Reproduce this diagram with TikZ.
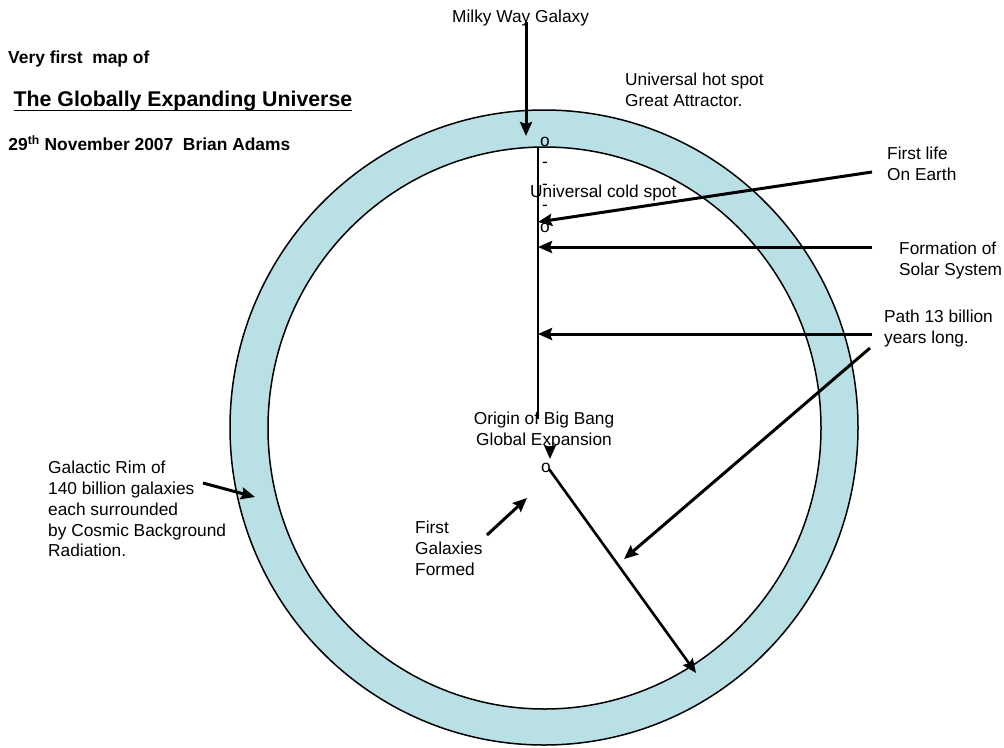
\documentclass[tikz,border=0pt]{standalone}
\usepackage{fontspec}
\setmainfont{Liberation Sans}
\usetikzlibrary{arrows.meta}
\definecolor{ringfill}{RGB}{185,224,229}
\begin{document}
\begin{tikzpicture}[x=1pt,y=-1pt,
  lbl/.style={inner sep=0pt, font=\fontsize{17.3}{20.7}\selectfont, align=left},
  clbl/.style={inner sep=0pt, font=\fontsize{17.3}{20.7}\selectfont, align=center},
  boldlbl/.style={inner sep=0pt, font=\fontsize{17.4}{20.7}\selectfont\bfseries},
  titlelbl/.style={inner sep=0pt, font=\fontsize{21.3}{25}\selectfont\bfseries},
  arr/.style={line width=3pt, -{Stealth[length=14pt,width=12pt,inset=2pt]}},
  rim/.style={line width=1.5pt},
]
\useasboundingbox (0,0) rectangle (1004,747);
\fill[white] (0,0) rectangle (1004,747);
% ring
\fill[ringfill,even odd rule] (544,427.5) ellipse [x radius=314pt, y radius=317.5pt]
  (544.5,428) ellipse [x radius=276.5pt, y radius=281pt];
\draw[rim] (544,427.5) ellipse [x radius=314pt, y radius=317.5pt];
\draw[rim] (544.5,428) ellipse [x radius=276.5pt, y radius=281pt];

% header texts (base anchor = baseline of the last line)
\node[boldlbl, anchor=base west] (vf) at (8,63) {Very first\ \ map of};
\node[titlelbl, anchor=base west] (title) at (13.5,106.7) {The Globally Expanding Universe};
\draw[line width=1.7pt] ([yshift=-3.8pt]title.base west) -- ([yshift=-3.8pt]title.base east);
\node[boldlbl, anchor=base west] (date) at (8.3,150.7) {29\textsuperscript{th} November 2007\ \ Brian Adams};

% labels
\node[lbl, anchor=base west] (milky) at (452,22) {Milky Way Galaxy};
\node[lbl, anchor=base west] (hot) at (625,106) {Universal hot spot\\Great Attractor.};
\node[clbl, anchor=base] (marks) at (545,232) {o\\[0.8pt]-\\[0.8pt]-\\[0.8pt]-\\[0.8pt]o};
\node[lbl, anchor=base west] (cold) at (530,197) {Universal cold spot};
\node[lbl, anchor=base west] (life) at (887,180) {First life\\On Earth};
\node[lbl, anchor=base west] (solar) at (899,275) {Formation of\\Solar System};
\node[lbl, anchor=base west] (path) at (884,343) {Path 13 billion\\years long.};
\node[clbl, anchor=base] (origin) at (544,445) {Origin of Big Bang\\Global Expansion};
\node[clbl, anchor=base] (o) at (546,472) {o};
\node[lbl, anchor=base west] (rimtxt) at (48,556.7) {Galactic Rim of\\140 billion galaxies\\each surrounded\\by Cosmic Background\\Radiation.};
\node[lbl, anchor=base west] (firstgal) at (415,575) {First\\Galaxies\\Formed};

% coordinates
\coordinate (milkyS) at (526,22);
\coordinate (milkyE) at (526,136);
\coordinate (lifeS) at (872,172);
\coordinate (lifeE) at (538,222);
\coordinate (solarS) at (872,247);
\coordinate (solarE) at (538,247);
\coordinate (pathS) at (872,334);
\coordinate (pathE) at (538,334);
\coordinate (diagS) at (870,348);
\coordinate (diagE) at (624,559);
\coordinate (radS) at (549,469);
\coordinate (radE) at (696,673);
\coordinate (rimS) at (203,483);
\coordinate (rimE) at (255,497);
\coordinate (galS) at (487,535);
\coordinate (galE) at (527,498);
\coordinate (vtop) at (538,147);
\coordinate (vbot) at (538,419);
\coordinate (smallS) at (550,446);
\coordinate (smallE) at (550,459);

% vertical path line
\draw[line width=2pt] (vtop) -- (vbot);

% arrows
\draw[arr] (milkyS) -- (milkyE);
\draw[arr] (lifeS) -- (lifeE);
\draw[arr] (solarS) -- (solarE);
\draw[arr] (pathS) -- (pathE);
\draw[arr] (diagS) -- (diagE);
\draw[arr, line width=2.6pt] (radS) -- (radE);
\draw[arr] (rimS) -- (rimE);
\draw[arr] (galS) -- (galE);
\draw[arr] (smallS) -- (smallE);
\end{tikzpicture}
\end{document}
